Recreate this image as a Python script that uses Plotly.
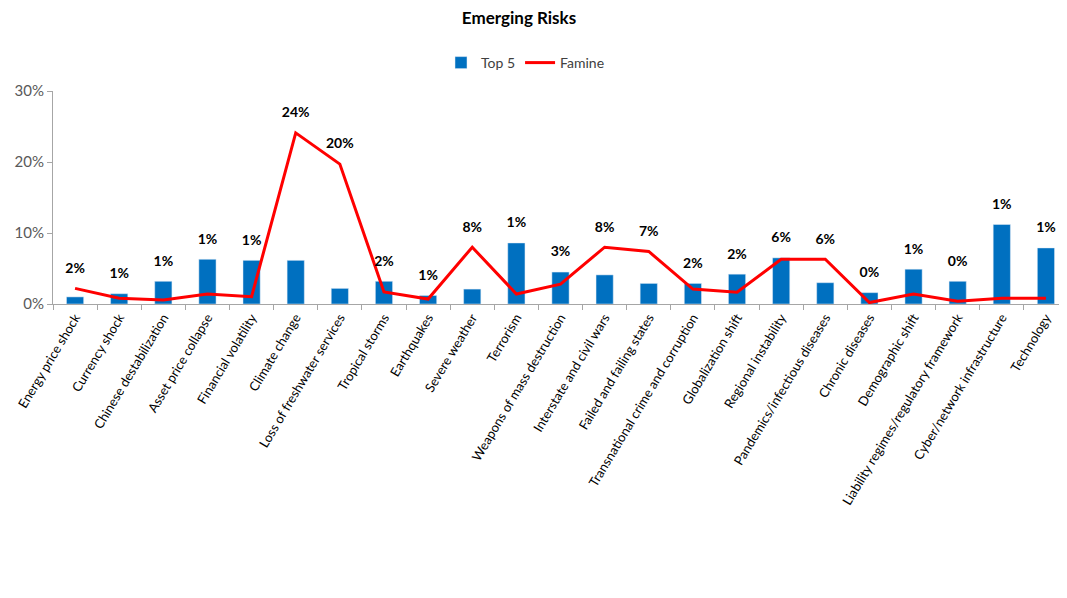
import plotly.graph_objects as go

categories = [
    "Energy price shock", "Currency shock", "Chinese destabilization", "Asset price collapse",
    "Financial volatility", "Climate change", "Loss of freshwater services", "Tropical storms",
    "Earthquakes", "Severe weather", "Terrorism", "Weapons of mass destruction",
    "Interstate and civil wars", "Failed and failing states", "Transnational crime and corruption",
    "Globalization shift", "Regional instability", "Pandemics/infectious diseases",
    "Chronic diseases", "Demographic shift", "Liability regimes/regulatory framework",
    "Cyber/network infrastructure", "Technology",
]
top5 = [1.0, 1.45, 3.2, 6.3, 6.15, 6.15, 2.2, 3.2, 1.2, 2.1, 8.6, 4.5,
        4.1, 2.9, 2.9, 4.2, 6.5, 3.0, 1.6, 4.9, 3.2, 11.2, 7.9]
famine = [2.2, 0.8, 0.56, 1.4, 1.03, 24.1, 19.7, 1.7, 0.7, 8.0, 1.4, 2.8,
          8.0, 7.4, 2.1, 1.65, 6.3, 6.3, 0.2, 1.4, 0.4, 0.8, 0.8]

top5_f = [v / 100 for v in top5]
famine_f = [v / 100 for v in famine]
label_offset = 0.027
label_y = [max(a, b) + label_offset for a, b in zip(top5_f, famine_f)]
label_text = [f"{round(v + 1e-9):.0f}%" for v in famine]

FONT = "Lato, Carlito, Calibri, Arial, sans-serif"

# page body has an 8px default margin; size the figure to fit the window
W, H = 1060, 590

fig = go.Figure()
fig.add_trace(go.Bar(
    x=categories, y=top5_f, name="Top 5",
    marker=dict(color="#0070C0"), width=0.39,
))
fig.add_trace(go.Scatter(
    x=categories, y=famine_f, name="Famine", mode="lines",
    line=dict(color="#FF0000", width=3),
))
fig.add_trace(go.Scatter(
    x=categories, y=label_y, mode="text", text=label_text,
    textfont=dict(family=FONT, size=14, color="#000000", weight="bold"),
    showlegend=False, hoverinfo="skip", cliponaxis=False,
))

fig.update_layout(
    width=W, height=H,
    paper_bgcolor="white", plot_bgcolor="white",
    margin=dict(l=45, r=0, t=83, b=294, autoexpand=False),
    title=dict(text="<b>Emerging Risks</b>", x=511 / W, xref="container", xanchor="center",
               y=1 - 10 / H, yref="container", yanchor="middle",
               font=dict(family=FONT, size=17, color="#000000")),
    legend=dict(orientation="h", x=433 / W, xref="container", xanchor="left",
                y=1 - 55 / H, yref="container", yanchor="middle",
                font=dict(family=FONT, size=14, color="#404040"),
                itemwidth=30, traceorder="normal"),
    showlegend=True,
)
fig.update_xaxes(
    type="category", range=[-0.5, len(categories) - 0.5], tickangle=-59,
    showline=True, linecolor="#A6A6A6", linewidth=1,
    ticks="outside", tickson="boundaries", ticklen=5, tickcolor="#A6A6A6",
    tickfont=dict(family=FONT, size=13, color="#000000"), showgrid=False,
    automargin=False,
)
fig.update_yaxes(
    range=[0, 0.30], tickvals=[0, 0.1, 0.2, 0.3], tickformat=".0%",
    showline=True, linecolor="#A6A6A6", linewidth=1, ticks="outside", ticklen=5,
    tickcolor="#A6A6A6", showgrid=False, zeroline=False,
    tickfont=dict(family=FONT, size=15, color="#595959"), automargin=False,
)

fig.write_html("out.html")
